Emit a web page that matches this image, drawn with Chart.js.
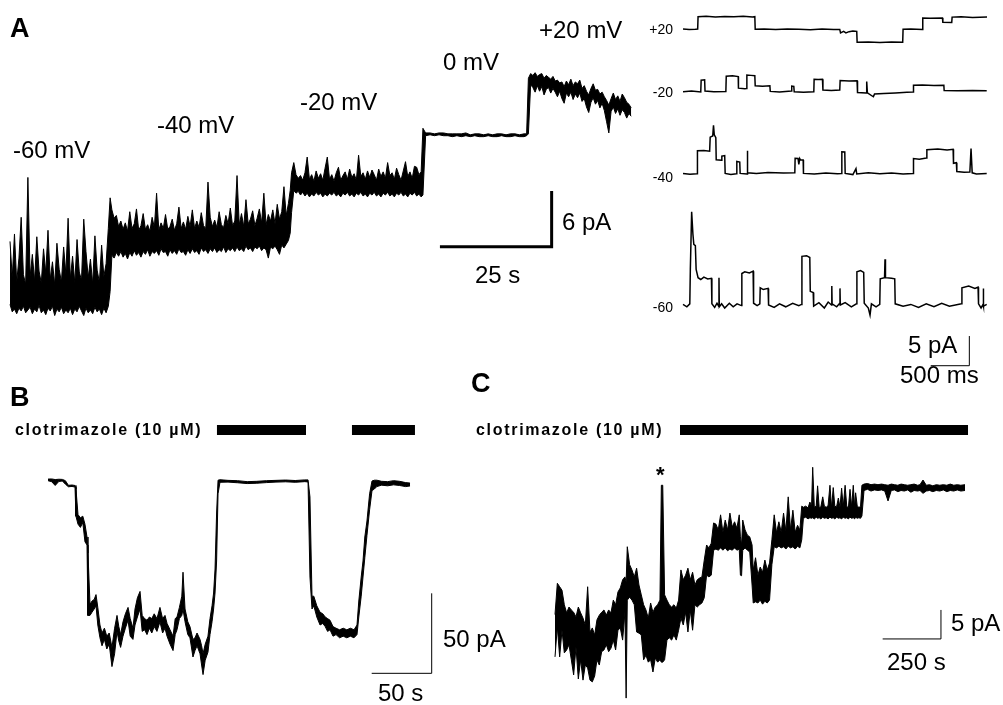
<!DOCTYPE html>
<html>
<head>
<meta charset="utf-8">
<script src="https://cdn.jsdelivr.net/npm/chart.js@4.4.1/dist/chart.umd.min.js"></script>
<style>
  html, body { margin: 0; padding: 0; background: #fff; }
  #fig { position: relative; width: 1003px; height: 705px; overflow: hidden; font-family: Arial, "Liberation Sans", sans-serif; color: #000; }
  #fig canvas { position: absolute; left: 0; top: 0; }
  .lbl { position: absolute; font-size: 24px; line-height: 1; white-space: nowrap; transform: translateY(-50%); }
  .panel { font-weight: bold; font-size: 27px; }
  .mv { font-size: 14px; }
  .drug { font-weight: bold; font-size: 16px; letter-spacing: 1.7px; }
  .star { font-weight: bold; font-size: 22px; }
</style>
</head>
<body>
<div id="fig">
  <canvas id="chartA" width="1003" height="705"></canvas>
  <canvas id="chartA2" width="1003" height="705"></canvas>
  <canvas id="chartB" width="1003" height="705"></canvas>
  <canvas id="chartC" width="1003" height="705"></canvas>

  <div class="lbl panel" style="left:10px; top:28px;">A</div>
  <div class="lbl" style="left:13px; top:150px;">-60 mV</div>
  <div class="lbl" style="left:157px; top:125px;">-40 mV</div>
  <div class="lbl" style="left:300px; top:102px;">-20 mV</div>
  <div class="lbl" style="left:443px; top:62px;">0 mV</div>
  <div class="lbl" style="left:539px; top:30px;">+20 mV</div>
  <div class="lbl" style="left:562px; top:222px;">6 pA</div>
  <div class="lbl" style="left:475px; top:275px;">25 s</div>

  <div class="lbl mv" style="right:330px; top:29px;">+20</div>
  <div class="lbl mv" style="right:330px; top:92px;">-20</div>
  <div class="lbl mv" style="right:330px; top:177px;">-40</div>
  <div class="lbl mv" style="right:330px; top:307px;">-60</div>
  <div class="lbl" style="left:908px; top:345px;">5 pA</div>
  <div class="lbl" style="left:900px; top:375px;">500 ms</div>

  <div class="lbl panel" style="left:10px; top:397px;">B</div>
  <div class="lbl drug" style="left:15px; top:430px;">clotrimazole (10 µM)</div>
  <div class="lbl" style="left:443px; top:639px;">50 pA</div>
  <div class="lbl" style="left:378px; top:693px;">50 s</div>

  <div class="lbl panel" style="left:471px; top:383px;">C</div>
  <div class="lbl drug" style="left:476px; top:430px;">clotrimazole (10 µM)</div>
  <div class="lbl star" style="left:656px; top:475px;">*</div>
  <div class="lbl" style="left:951px; top:623px;">5 pA</div>
  <div class="lbl" style="left:887px; top:662px;">250 s</div>
</div>

<script>
// A: voltage steps, bins of [time s, min pA, max pA]
const traceA = [
  [0,0.6,7.4],[0.5,-0.2,3.5],[1,0.1,8.2],[1.5,-0.4,3.0],[2,0.2,5.6],[2.5,-0.1,10.0],[3,0.4,3.8],[3.5,-0.3,2.8],
  [4,0.0,14.3],[4.5,0.3,3.6],[5,-0.4,6.0],[5.5,0.1,3.1],[6,-0.2,7.9],[6.5,0.5,4.2],[7,-0.3,2.9],[7.5,0.0,6.6],
  [8,-0.5,4.0],[8.5,0.2,8.6],[9,-0.1,3.3],[9.5,0.4,5.2],[10,-0.6,2.7],[10.5,0.1,7.2],[11,-0.2,4.4],[11.5,0.3,3.0],
  [12,-0.4,6.8],[12.5,0.0,3.9],[13,-0.3,9.9],[13.5,0.2,3.4],[14,-0.5,5.8],[14.5,0.1,2.9],[15,-0.2,7.6],[15.5,0.4,4.1],
  [16,-0.1,3.2],[16.5,-0.6,9.8],[17,0.2,6.3],[17.5,-0.3,3.5],[18,0.0,5.5],[18.5,-0.4,2.8],[19,0.3,8.0],[19.5,-0.2,4.3],
  [20,0.1,3.0],[20.5,-0.5,7.0],[21,0.2,3.6],[21.5,-0.3,5.0],[22,0.4,8.8],[22.4,2.0,12.1],
  [22.8,5.9,10.8],[23.3,5.6,9.9],[23.8,6.2,10.2],[24.3,5.8,9.0],[24.8,6.3,9.6],[25.3,5.7,8.7],[25.8,6.1,9.4],[26.3,5.5,8.5],
  [26.8,6.2,10.6],[27.3,5.8,8.8],[27.8,6.4,9.3],[28.3,5.9,10.9],[28.8,6.2,8.6],[29.3,5.7,9.1],[29.8,6.3,10.4],[30.3,6.0,8.7],
  [30.8,6.5,9.2],[31.3,5.8,8.5],[31.8,6.3,10.0],[32.3,6.1,8.9],[32.8,6.4,12.6],[33.3,5.9,8.6],[33.8,6.6,9.4],[34.3,6.2,8.8],
  [34.8,6.3,10.3],[35.3,5.8,8.7],[35.8,6.5,9.0],[36.3,6.1,9.8],[36.8,6.4,8.6],[37.3,6.0,9.3],[37.8,6.6,11.1],[38.3,6.2,8.8],
  [38.8,6.3,9.5],[39.3,5.9,8.7],[39.8,6.5,10.1],[40.3,6.1,9.0],[40.8,6.6,10.8],[41.3,6.2,8.8],[41.8,6.4,9.6],[42.3,6.0,8.9],
  [42.8,6.7,10.5],[43.3,6.3,9.1],[43.8,6.5,8.8],[44.3,6.1,13.8],[44.8,6.6,10.0],[45.3,6.3,9.0],[45.8,6.7,9.7],[46.3,6.2,8.9],
  [46.8,6.5,10.6],[47.3,6.3,9.2],[47.8,6.8,8.9],[48.3,6.2,10.2],[48.8,6.6,9.3],[49.3,6.4,11.0],[49.8,6.7,9.1],[50.3,6.3,9.6],
  [50.8,6.8,14.5],[51.3,6.4,9.2],[51.8,6.6,10.4],[52.3,6.3,9.0],[52.8,6.9,11.9],[53.3,6.5,9.3],[53.8,6.7,9.8],[54.3,6.3,10.7],
  [54.8,6.8,9.1],[55.3,6.6,9.9],[55.8,6.9,10.9],[56.3,6.4,9.4],[56.8,6.7,12.6],[57.3,6.5,9.2],[57.8,5.6,10.3],[58.3,6.8,9.6],
  [58.8,6.6,10.8],[59.3,6.9,9.3],[59.8,6.5,11.4],[60.3,6.0,9.8],[60.8,7.0,10.6],[61.3,6.7,13.3],[61.8,7.1,10.2],[62.3,7.5,11.5],
  [62.7,8.3,12.9],[63.0,10.5,14.8],
  [63.5,12.9,15.9],[64,12.6,14.6],[64.5,12.8,14.2],[65,12.4,14.5],[65.5,12.7,14.0],[66,12.3,14.8],[66.5,12.6,16.5],[67,12.2,14.1],
  [67.5,12.5,14.6],[68,12.3,13.9],[68.5,12.7,15.0],[69,12.4,14.2],[69.5,12.6,14.7],[70,12.2,14.0],[70.5,12.5,15.3],[71,12.3,16.5],
  [71.5,12.6,14.1],[72,12.4,14.6],[72.5,12.7,13.9],[73,12.3,14.8],[73.5,12.5,15.4],[74,12.2,14.0],[74.5,12.6,14.5],[75,12.4,14.9],
  [75.5,12.7,14.1],[76,12.3,15.2],[76.5,12.5,14.3],[77,12.2,14.7],[77.5,12.6,14.0],[78,12.4,16.7],[78.5,12.7,14.4],[79,12.3,14.8],
  [79.5,12.5,14.1],[80,12.2,15.0],[80.5,12.6,14.3],[81,12.4,15.1],[81.5,12.7,14.6],[82,12.3,14.0],[82.5,12.5,15.2],[83,12.2,14.4],
  [83.5,12.6,14.9],[84,12.4,14.2],[84.5,12.7,15.9],[85,12.3,14.5],[85.5,12.5,14.8],[86,12.2,14.1],[86.5,12.6,15.3],[87,12.4,14.6],
  [87.5,12.7,14.0],[88,12.3,15.0],[88.5,12.5,16.0],[89,12.2,14.4],[89.5,12.6,14.9],[90,12.4,14.2],[90.5,12.7,15.5],[91,12.3,15.4],
  [91.5,12.5,14.6],[92,12.2,14.9],[92.4,12.4,19.6],
  [93,18.8,19.1],[94,18.9,19.1],[95,18.8,19.0],[96,18.9,19.1],[97,18.8,19.1],[98,18.8,19.0],[99,18.7,19.0],[100,18.8,19.0],
  [101,18.7,19.0],[102,18.8,19.1],[103,18.7,18.9],[104,18.8,19.0],[105,18.7,19.0],[106,18.7,18.9],[107,18.8,19.0],[108,18.7,18.9],
  [109,18.7,19.0],[110,18.8,19.0],[111,18.7,18.9],[112,18.7,19.0],[113,18.8,19.0],[114,18.7,18.9],[115,18.7,19.0],[115.6,18.8,19.0],
  [116,19.0,25.0],[116.5,24.3,25.5],[117,24.0,25.3],[117.5,23.5,25.6],[118,24.2,25.2],[118.5,23.6,25.4],[119,24.1,25.5],[119.5,23.2,25.0],
  [120,23.8,25.3],[120.5,24.0,25.1],[121,23.4,24.9],[121.5,23.9,25.2],[122,23.5,24.7],[122.5,23.0,24.8],[123,23.6,24.5],[123.5,22.8,24.6],
  [124,22.3,24.1],[124.5,23.4,24.7],[125,23.0,24.3],[125.5,23.5,24.9],[126,22.7,24.2],[126.5,23.3,24.6],[127,22.9,24.4],[127.5,23.4,24.8],
  [128,22.5,23.9],[128.5,22.8,24.2],[129,21.9,23.6],[129.5,21.3,23.2],[130,22.4,23.9],[130.5,22.9,24.4],[131,22.2,23.7],[131.5,22.6,23.8],
  [132,21.8,23.3],[132.5,22.3,23.5],[133,21.5,23.0],[133.5,20.3,22.6],[134,19.1,22.1],[134.5,21.4,22.8],[135,21.9,23.4],[135.5,21.2,22.7],
  [136,21.7,23.1],[136.5,21.0,22.5],[137,21.6,23.3],[137.5,21.3,22.9],[138,20.7,22.4],[138.5,21.2,22.2],[139,20.9,21.8]
];

// A right: single-channel sweeps, [time ms, pA from closed level]
const sweep20 = [
  [0,0.05],[80,-0.05],[160,0.0],[190,0.03],[195,2.1],[300,2.2],[420,2.05],[540,2.15],[660,2.1],[780,2.2],[900,2.08],[930,2.12],
  [935,0.0],[1050,0.05],[1200,-0.05],[1350,0.05],[1500,0.0],[1650,-0.06],[1800,0.04],[1950,-0.05],[2030,-0.02],[2040,-0.6],
  [2080,-0.35],[2110,-0.6],[2150,-0.4],[2200,-0.3],[2250,-0.35],[2255,-2.2],[2400,-2.15],[2550,-2.22],[2700,-2.15],[2845,-2.2],
  [2850,0.0],[2950,0.05],[3100,-0.03],[3105,1.9],[3200,1.85],[3360,1.9],[3365,1.2],[3480,1.15],[3485,2.05],[3600,2.1],[3750,2.0],[3937,2.08]
];
const sweepM20 = [
  [0,0.0],[110,0.1],[230,-0.05],[235,1.95],[280,2.0],[285,0.1],[400,0.0],[555,0.05],[560,2.6],[640,2.7],[715,2.55],[718,0.6],
  [800,0.5],[822,0.55],[827,2.8],[880,2.75],[930,2.7],[935,1.0],[1030,0.9],[1125,1.0],[1130,0.05],[1250,-0.05],[1405,0.1],[1408,0.95],
  [1435,0.9],[1440,0.0],[1560,-0.1],[1694,0.0],[1698,2.1],[1750,2.05],[1806,2.1],[1812,0.3],[1920,0.2],[2030,0.3],[2035,1.9],[2150,1.8],
  [2254,1.85],[2260,-0.15],[2370,-0.2],[2379,1.7],[2388,-0.2],[2465,-0.85],[2480,-0.4],[2600,-0.3],[2750,-0.2],[2900,-0.1],[2980,-0.05],
  [2985,1.1],[3100,1.15],[3250,1.05],[3378,1.1],[3382,0.2],[3550,0.15],[3750,0.2],[3933,0.15]
];
const sweepM40 = [
  [0,0.1],[90,-0.05],[183,0.05],[187,3.9],[270,3.95],[345,3.85],[352,6.2],[385,6.4],[395,8.2],[405,6.6],[425,6.1],[430,2.4],[500,2.3],
  [503,3.0],[540,3.1],[546,0.1],[620,-0.1],[693,0.05],[697,2.1],[735,2.0],[740,0.1],[830,0.0],[833,3.9],[838,0.2],[950,0.1],[1100,0.25],
  [1300,0.15],[1448,0.2],[1452,2.65],[1490,2.6],[1500,1.6],[1512,2.6],[1520,2.4],[1556,2.35],[1560,0.1],[1700,0.0],[1850,0.15],[2000,0.05],
  [2053,0.1],[2057,3.75],[2095,3.7],[2100,0.1],[2200,-0.1],[2240,0.9],[2250,0.0],[2400,0.2],[2550,0.05],[2700,0.15],[2850,0.0],[2980,0.1],
  [2985,2.6],[3060,2.5],[3152,2.7],[3158,4.1],[3300,4.2],[3420,4.05],[3498,4.15],[3503,1.8],[3540,1.9],[3546,0.4],[3640,0.3],[3715,0.35],
  [3730,4.3],[3745,0.2],[3800,0.0],[3933,0.1]
];
const sweepM60 = [
  [0,0.1],[50,-0.3],[88,0.2],[95,6.0],[112,15.7],[128,12.0],[140,10.2],[160,10.0],[170,6.0],[195,4.6],[230,4.3],[270,4.7],[320,4.4],
  [368,4.5],[374,0.2],[410,-0.4],[440,0.3],[462,-0.2],[466,4.6],[470,-0.3],[500,0.2],[540,-0.5],[600,0.3],[650,-0.3],[700,0.2],[756,-0.1],
  [762,5.3],[800,5.6],[860,5.4],[908,5.7],[914,0.3],[960,-0.1],[995,0.2],[1000,2.9],[1040,2.6],[1102,2.8],[1108,0.0],[1180,-0.4],[1250,0.2],
  [1330,-0.3],[1420,0.3],[1500,-0.1],[1534,0.1],[1540,8.2],[1600,8.3],[1642,8.0],[1648,2.3],[1686,2.1],[1692,-0.2],[1760,0.4],[1830,-0.5],
  [1880,0.5],[1923,0.0],[1927,3.2],[1931,0.2],[1990,-0.3],[2030,0.3],[2033,2.8],[2037,0.0],[2100,0.4],[2180,-0.3],[2246,0.2],[2252,5.6],
  [2300,5.8],[2340,5.5],[2347,0.3],[2400,-0.5],[2422,-1.7],[2440,0.2],[2500,-0.3],[2548,0.1],[2554,4.4],[2610,4.6],[2616,7.7],[2622,4.6],
  [2700,4.5],[2742,4.4],[2748,0.2],[2850,-0.2],[2950,0.1],[3050,-0.4],[3150,0.2],[3250,-0.3],[3350,0.3],[3450,-0.2],[3606,0.2],[3612,2.9],
  [3700,3.2],[3780,2.8],[3821,3.0],[3827,0.2],[3860,-0.5],[3886,0.1],[3889,2.8],[3893,-0.2],[3933,0.1]
];

// B: whole-cell current, [time s, min pA, max pA]
const traceB = [
  [0,0.2,1.2],[3,-0.4,1.3],[6,-2.8,0.9],[9,-0.3,1.1],[12,0.0,1.0],[14.5,-2.0,0.2],[17,-3.6,-2.7],[20,-3.4,-2.5],[22.5,-3.8,-2.8],
  [23.3,-22,-5],[25,-27,-21],[27,-29,-23],[29,-26,-22],[30.8,-38,-27],[32.5,-40,-35],[33.3,-84,-45],[35,-84,-77],[36.7,-82,-75],
  [38.5,-80,-74],[40,-78,-71],[41.5,-90,-79],[43.3,-98,-90],[45,-103,-95],[47,-99,-92],[49,-105,-97],[51,-102,-95],[53.3,-116,-104],
  [55.5,-108,-92],[57.5,-94,-84],[59,-100,-91],[60.5,-104,-96],[62.5,-97,-88],[64.5,-92,-83],[66.7,-87,-79],[68.5,-97,-86],[70.8,-99,-92],
  [72.5,-90,-80],[74.5,-85,-73],[76.7,-80,-69],[78.5,-94,-84],[80.5,-93,-86],[82.5,-96,-87],[84.5,-92,-85],[86.5,-95,-86],[88.5,-91,-83],
  [90.8,-94,-86],[93.3,-88,-79],[95.5,-95,-86],[97.5,-92,-84],[99.2,-97,-89],[101.7,-102,-93],[104.2,-106,-97],[106,-96,-86],[107.5,-93,-85],
  [109.5,-86,-79],[111.5,-84,-72],[112.5,-80,-57],[114.2,-88,-80],[116.5,-96,-88],[118.3,-98,-91],[120.8,-110,-99],[122.5,-106,-98],
  [124.2,-103,-95],[126.7,-108,-99],[128,-115,-103],[129.2,-121,-108],[131,-112,-102],[133.3,-107,-97],[135,-96,-86],[136.7,-88,-78],
  [138,-80,-70],[139.2,-70,-55],[140.5,-50,-20],[141.7,-8,0.5],[143.3,-0.8,0.8],
  [150,-0.7,0.4],[158,-1.1,0.2],[166,-1.6,-0.4],[174,-1.4,-0.2],[182,-1.0,0.2],[190,-0.7,0.4],[198,-0.5,0.6],[206,-0.8,0.3],[214,-0.4,0.7],
  [216.7,-0.6,0.7],[218.3,-60,-10],[220,-80,-72],[221.5,-78,-72],[224,-85,-78],[226.7,-90,-82],[229,-89,-83],[231,-91,-85],[233,-94,-86],
  [235,-93,-87],[237.5,-97,-91],[240,-96,-92],[243,-98,-93],[246,-97,-92],[249,-98,-93],[252,-97,-92],[255,-98,-93],[257.5,-96,-90],
  [259,-85,-75],[261,-72,-60],[262.5,-60,-50],[264,-48,-35],[265.8,-34,-25],[268,-18,-8],[270,-6,0],[272,-5,0.5],[274,-3.5,0.5],
  [278,-2.6,-0.2],[283,-3.0,-0.4],[288,-2.4,0.2],[293,-2.8,-0.2],[298,-3.5,-1.0],[301.7,-3.1,-1.3]
];
const drugB = [[140.8, 215.0], [253.3, 305.8]];

// C: cell-attached patch, [time s, min pA, max pA]
const traceC = [
  [0,-29.3,-22],[10,-24.1,-16.6],[20,-29.3,-17.2],[30,-24.7,-17.8],[40,-28.6,-20.3],[50,-28.1,-21.7],[60,-27.2,-20.7],[70,-29.8,-21.2],
  [80,-32.4,-21.6],[90,-27.6,-22.4],[100,-33.1,-20.7],[110,-29.8,-21.7],[120,-33.3,-22.6],[130,-30.7,-23.8],[140,-31.2,-17.2],[150,-33.3,-25.0],
  [160,-33.6,-24.3],[170,-32.6,-25.5],[180,-29.8,-22.9],[190,-30.7,-22.1],[200,-28.4,-21.6],[210,-28.1,-21.2],[220,-27.2,-22.1],[230,-28.4,-21.2],
  [240,-27.8,-21.7],[250,-26.4,-19.5],[260,-28.1,-20.3],[270,-24.7,-18.1],[280,-24.3,-17.4],[290,-26.4,-16.0],[300,-21.6,-15.5],[305,-36.4,-16.4],
  [310,-19.5,-10.3],[320,-19.0,-13.4],[330,-19.5,-14.3],[340,-20.3,-15.5],[350,-25.0,-14.0],[360,-25.2,-16.9],[370,-25.5,-18.6],[380,-29.8,-20.3],
  [390,-29.0,-21.2],[400,-30.2,-22.6],[410,-29.8,-20.0],[420,-31.9,-21.6],[430,-29.5,-20.7],[440,-30.2,-20.3],[450,-29.8,-19.5],[456,-30.2,0.3],
  [462,-30.2,0.3],[470,-29.8,-18.6],[480,-26.4,-19.5],[490,-26.0,-20.3],[500,-26.4,-20.7],[510,-25.5,-20.3],[520,-26.4,-20.9],[530,-24.7,-19.5],
  [540,-22.6,-14.3],[550,-23.8,-16.0],[560,-21.6,-15.2],[570,-25.0,-14.0],[580,-21.2,-16.0],[590,-24.7,-14.7],[600,-20.3,-16.9],[610,-20.7,-16.0],
  [620,-20.3,-15.7],[630,-20.0,-15.5],[640,-19.1,-12.6],[650,-15.2,-10.0],[660,-15.5,-10.5],[670,-15.2,-9.7],[680,-10.9,-6.2],
  [690,-10.7,-6.4],[700,-10.9,-7.4],[710,-10.5,-4.8],[720,-10.9,-7.8],[730,-10.5,-5.7],[740,-11.0,-7.4],[750,-10.7,-4.5],[760,-10.9,-6.9],
  [770,-10.5,-6.0],[780,-10.9,-7.1],[790,-10.7,-4.8],[795,-15.2,-8.6],[800,-15.3,-10.0],[805,-10.9,-5.7],[815,-10.5,-7.4],[825,-10.9,-8.3],
  [835,-11.2,-8.6],[845,-16.9,-10.0],
  [850,-20.0,-14.3],[860,-19.8,-12.2],[870,-20.0,-15.2],[880,-19.5,-13.8],[890,-20.2,-14.7],[900,-19.7,-12.6],[910,-20.0,-14.3],[920,-19.5,-13.1],
  [930,-13.4,-9.1],[940,-10.3,-4.8],[950,-10.5,-7.9],[960,-10.2,-6.0],[970,-10.5,-7.8],[980,-10.3,-4.5],[990,-10.7,-7.6],[1000,-10.2,-1.7],
  [1010,-10.5,-7.4],[1020,-10.3,-4.0],[1030,-10.7,-7.8],[1040,-10.2,-6.6],[1050,-10.5,-7.4],[1058,-9.1,-3.3],
  [1065,-5.4,-3.5],[1075,-5.2,-3.3],[1085,-5.5,-3.6],[1093,-5.3,-2.6],[1100,-5.4,-3.4],[1105,-5.3,3.4],[1112,-5.5,-3.5],[1120,-5.2,-3.3],
  [1126,-5.4,0.2],[1133,-5.3,-3.6],[1140,-5.5,-3.4],[1148,-5.2,-1.7],[1155,-5.4,-3.3],[1163,-5.3,-3.5],[1171,-5.5,-3.2],[1179,-5.2,0.3],
  [1186,-5.4,-3.6],[1193,-5.3,-0.1],[1200,-5.5,-3.4],[1208,-5.2,-3.3],[1215,-5.4,-1.9],[1222,-5.3,-3.5],[1229,-5.5,-0.2],[1236,-5.2,-3.4],
  [1244,-5.4,0.3],[1251,-5.3,-3.3],[1258,-5.5,-3.6],[1265,-5.2,-0.4],[1272,-5.4,-3.4],[1279,-5.3,0.3],[1285,-5.5,-3.5],[1289,-5.2,-1.0],
  [1296,-5.4,-3.3],[1303,-5.3,-3.5],[1310,-5.4,-3.4],[1316,-5.0,0.3],
  [1325,-0.6,0.5],[1340,-0.4,0.6],[1355,-0.7,0.4],[1370,-0.5,0.5],[1385,-0.6,0.4],[1400,-0.5,0.5],[1414,-0.7,0.4],[1428,-2.4,0.3],
  [1442,-0.6,0.5],[1456,-0.5,0.4],[1470,-0.8,0.3],[1484,-0.6,0.5],[1498,-0.7,0.4],[1512,-0.5,0.3],[1526,-0.9,0.4],[1540,-0.6,0.5],
  [1555,-0.7,0.3],[1565,-0.6,0.4],[1578,-1.1,1.2],[1592,-0.7,0.3],[1606,-0.6,0.4],[1620,-0.8,0.2],[1635,-0.6,0.4],[1650,-0.7,0.3],
  [1665,-0.5,0.4],[1680,-0.8,0.3],[1695,-0.6,0.5],[1710,-0.7,0.3],[1725,-0.5,0.4],[1740,-0.7,0.3],[1758,-0.6,0.4]
];
const drugC = [[536, 1771]];

// scale bars: start time, start current, length in time, length in current
const barA = { t: 96.2, i: 6.83, dt: 25, di: 6 };
const barA2 = { t: 3208, i: -10.22, dt: 500, di: 5 };
const barB = { t: 269.75, i: -120.2, dt: 50, di: 50 };
const barC = { t: 1405, i: -26.2, dt: 250, di: 5 };

function points(rows, col) {
  return rows.map(r => ({ x: r[0], y: r[col || 1] }));
}

function line(data, width, axis) {
  return {
    data: data,
    borderColor: '#000',
    borderWidth: width,
    pointRadius: 0,
    tension: 0,
    fill: false,
    yAxisID: axis || 'y',
    borderJoinStyle: 'miter',
    borderCapStyle: 'butt'
  };
}

// noisy record: lower and upper envelope, filled between them
function band(bins, width) {
  const lower = line(points(bins, 1), width);
  const upper = line(points(bins, 2), width);
  upper.fill = '-1';
  upper.backgroundColor = '#000';
  return [lower, upper];
}

function scaleBar(bar, width, axis) {
  return line([
    { x: bar.t, y: bar.i },
    { x: bar.t + bar.dt, y: bar.i },
    { x: bar.t + bar.dt, y: bar.i + bar.di }
  ], width, axis);
}

function drugBars(list, level) {
  return list.map(seg => line([{ x: seg[0], y: level }, { x: seg[1], y: level }], 10));
}

function makeChart(id, datasets, xr, yAxes) {
  const scales = { x: { type: 'linear', display: false, min: xr[0], max: xr[1] } };
  Object.keys(yAxes).forEach(k => {
    scales[k] = { type: 'linear', display: false, min: yAxes[k][0], max: yAxes[k][1] };
  });
  new Chart(document.getElementById(id), {
    type: 'line',
    data: { datasets: datasets },
    options: {
      responsive: false,
      animation: false,
      events: [],
      layout: { padding: 0 },
      plugins: { legend: { display: false }, tooltip: { enabled: false }, filler: { propagate: false } },
      scales: scales
    }
  });
}

makeChart('chartA', band(traceA, 1).concat([scaleBar(barA, 3)]),
  [-2.24, 222.2], { y: [-42.61, 33.44] });

makeChart('chartA2', [
  line(points(sweep20), 1.5, 'y20'),
  line(points(sweepM20), 1.5, 'ym20'),
  line(points(sweepM40), 1.5, 'ym40'),
  line(points(sweepM60), 1.5, 'ym60'),
  scaleBar(barA2, 1, 'ym60')
], [-8845, 4144], {
  y20: [-113.75, 4.93], ym20: [-103.25, 15.44], ym40: [-89.39, 29.29], ym60: [-67.34, 51.35]
});

makeChart('chartB', band(traceB, 1).concat([scaleBar(barB, 1)], drugBars(drugB, 31.9)),
  [-40, 795.83], { y: [-140, 300.63] });

makeChart('chartC', band(traceC, 1).concat([scaleBar(barC, 1)], drugBars(drugC, 9.83)),
  [-2379.8, 1921.0], { y: [-37.59, 83.97] });
</script>
</body>
</html>
